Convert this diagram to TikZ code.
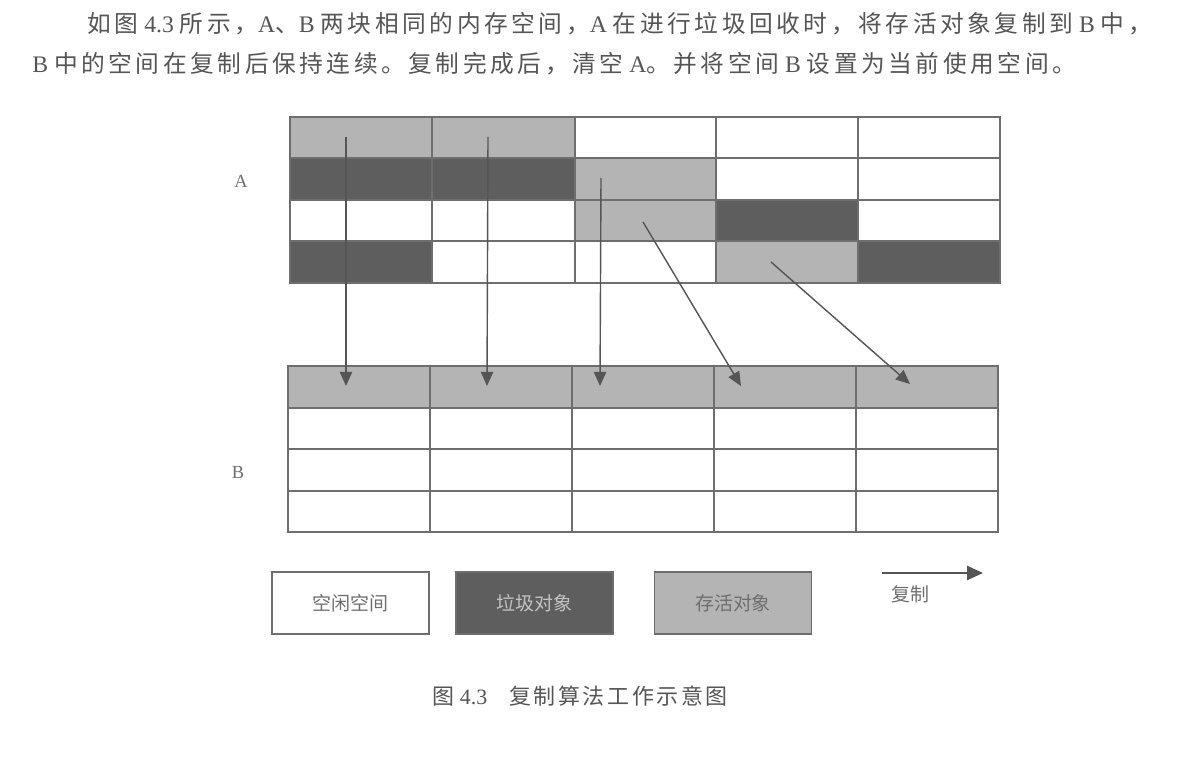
\documentclass[tikz,border=0pt]{standalone}
\usepackage{fontspec}
\setmainfont{Liberation Serif}
\newfontfamily\zhfont{Noto Sans CJK SC}
\newfontfamily\zhpara[LetterSpace=15]{Noto Sans CJK SC}
\newfontfamily\zhcap[LetterSpace=12]{Noto Sans CJK SC}
\usetikzlibrary{arrows.meta}
\definecolor{livegray}{HTML}{B4B4B4}
\definecolor{garbgray}{HTML}{5E5E5E}
\definecolor{linegray}{HTML}{6E6E6E}
\definecolor{inkgray}{HTML}{555555}
\begin{document}
\begin{tikzpicture}[x=0.02cm,y=-0.02cm,
    gridline/.style={draw=linegray,line width=0.8pt},
    livecell/.style={fill=livegray},
    garbcell/.style={fill=garbgray},
    copyarrow/.style={draw=inkgray,line width=0.8pt,-{Triangle[length=8pt,width=7pt]}},
    keyarrow/.style={draw=inkgray,line width=1pt,-{Triangle[length=9pt,width=8pt]}},
    keybox/.style={draw=linegray,line width=0.8pt,minimum width=3.14cm,minimum height=1.24cm,
      font=\zhfont\fontsize{10.8pt}{12pt}\selectfont},
    paraline/.style={anchor=west,inner sep=0pt,text=inkgray,font=\fontsize{13.5pt}{16pt}\selectfont},
    spacename/.style={text=linegray,font=\fontsize{10.5pt}{12pt}\selectfont}]
  \useasboundingbox[fill=white] (0,0) rectangle (1184,766);
  \node[paraline] (line1) at (87,24)
    {{\zhpara 如图}\ 4.3\ {\zhpara 所示，}A{\zhpara 、}B\ {\zhpara 两块相同的内存空间，}A\ {\zhpara 在进行垃圾回收时，将存活对象复制到}\ B\ {\zhpara 中，}};
  \node[paraline] (line2) at (32,64)
    {B\ {\zhpara 中的空间在复制后保持连续。复制完成后，清空}\ A{\zhpara 。并将空间}\ B\ {\zhpara 设置为当前使用空间。}};
  \fill[livecell] (290,117) rectangle (575,158);
  \fill[garbcell] (290,158) rectangle (575,200);
  \fill[livecell] (575,158) rectangle (716,241);
  \fill[garbcell] (716,200) rectangle (858,241);
  \fill[garbcell] (290,241) rectangle (432,283);
  \fill[livecell] (716,241) rectangle (858,283);
  \fill[garbcell] (858,241) rectangle (1000,283);
  \draw[gridline] (290,117) rectangle (1000,283);
  \draw[gridline] (290,158) -- (1000,158);
  \draw[gridline] (290,200) -- (1000,200);
  \draw[gridline] (290,241) -- (1000,241);
  \draw[gridline] (432,117) -- (432,283);
  \draw[gridline] (575,117) -- (575,283);
  \draw[gridline] (716,117) -- (716,283);
  \draw[gridline] (858,117) -- (858,283);
  \fill[livecell] (288,366) rectangle (998,408);
  \draw[gridline] (288,366) rectangle (998,532);
  \draw[gridline] (288,408) -- (998,408);
  \draw[gridline] (288,449) -- (998,449);
  \draw[gridline] (288,491) -- (998,491);
  \draw[gridline] (430,366) -- (430,532);
  \draw[gridline] (572,366) -- (572,532);
  \draw[gridline] (714,366) -- (714,532);
  \draw[gridline] (856,366) -- (856,532);
  \node[spacename] (spaceA) at (241,181) {A};
  \node[spacename] (spaceB) at (238,472) {B};
  \coordinate (a1) at (346,137);
  \coordinate (a2) at (488,137);
  \coordinate (a3) at (601,178);
  \coordinate (a4) at (643,222);
  \coordinate (a5) at (771,262);
  \coordinate (b1) at (346,386);
  \coordinate (b2) at (487,386);
  \coordinate (b3) at (600,386);
  \coordinate (b4) at (741,386);
  \coordinate (b5) at (910,384);
  \begin{scope}[copyarrow]
    \draw (a1) -- (b1);
    \draw (a2) -- (b2);
    \draw (a3) -- (b3);
    \draw (a4) -- (b4);
    \draw (a5) -- (b5);
  \end{scope}
  \node[keybox,fill=white,text=linegray] (free) at (350.5,603) {空闲空间};
  \node[keybox,fill=garbgray,text=livegray!80!white] (garbage) at (534.5,603) {垃圾对象};
  \node[keybox,fill=livegray,text=linegray] (live) at (733,603) {存活对象};
  \coordinate (copyfrom) at (882,573);
  \coordinate (copyto) at (983,573);
  \draw[keyarrow] (copyfrom) -- (copyto);
  \node[text=linegray,font=\zhfont\fontsize{10.8pt}{12pt}\selectfont] (copylabel) at (910,594) {复制};
  \node[anchor=west,inner sep=0pt,text=inkgray,font=\fontsize{12.5pt}{14pt}\selectfont] (caption) at (432,696)
    {{\zhfont 图} 4.3\quad{\zhcap 复制算法工作示意图}};
\end{tikzpicture}
\end{document}
